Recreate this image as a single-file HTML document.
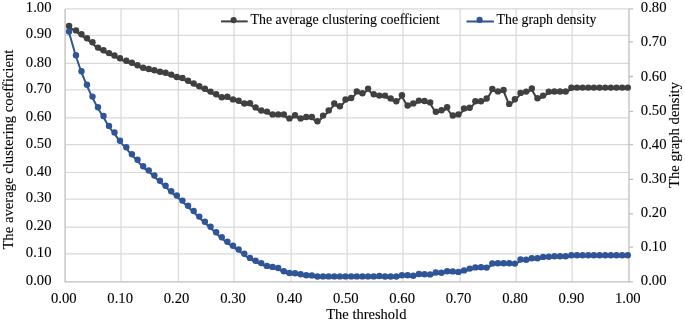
<!DOCTYPE html><html><head><meta charset="utf-8"><style>html,body{margin:0;padding:0;background:#fff;}svg{display:block;will-change:transform;}</style></head><body>
<svg width="685" height="323" viewBox="0 0 685 323">
<rect width="685" height="323" fill="#fff"/>
<path d="M65.10 35.35H629.00M65.10 63.40H629.00M65.10 89.95H629.00M65.10 117.90H629.00M65.10 144.70H629.00M65.10 172.50H629.00M65.10 199.20H629.00M65.10 227.10H629.00M65.10 253.95H629.00M65.10 8.90H629.00M121.00 8.90V281.80M178.40 8.90V281.80M234.00 8.90V281.80M291.10 8.90V281.80M347.10 8.90V281.80M403.00 8.90V281.80M460.10 8.90V281.80M516.10 8.90V281.80M572.10 8.90V281.80" stroke="#d9d9d9" stroke-width="1.2" fill="none"/>
<path d="M65.1 8.9V281.8H629.0M629.0 8.9V281.8M629.0 8.90H633.0M629.0 41.85H633.0M629.0 76.50H633.0M629.0 111.37H633.0M629.0 144.60H633.0M629.0 179.37H633.0M629.0 213.80H633.0M629.0 247.15H633.0M629.0 281.80H633.0" stroke="#bfbfbf" stroke-width="1.3" fill="none"/>
<polyline points="69.10,27.20 76.00,31.60 81.50,35.50 87.00,39.40 92.50,43.50 98.00,48.80 103.50,51.50 109.00,54.30 114.50,56.70 120.00,59.40 126.30,62.00 131.92,63.90 137.53,66.40 143.15,69.00 148.76,70.20 154.38,71.50 159.99,73.00 165.61,74.00 171.23,75.80 176.84,78.20 182.46,79.20 188.07,81.90 193.69,84.70 199.31,87.50 204.92,90.00 210.54,92.80 216.15,95.40 221.77,98.40 227.38,97.90 233.00,100.60 238.66,101.90 244.31,104.70 249.97,104.40 255.63,108.60 261.29,111.70 266.94,112.80 272.60,115.60 278.21,115.60 283.82,115.60 289.42,119.60 295.03,116.40 300.64,119.60 306.25,118.20 311.85,118.20 317.46,122.40 323.07,116.80 328.68,111.60 334.28,104.70 339.89,107.50 345.50,100.70 351.15,99.20 356.79,92.60 362.44,94.40 368.08,89.80 373.73,95.40 379.38,96.80 385.02,96.80 390.67,99.60 396.31,102.40 401.96,96.50 407.61,106.70 413.25,104.60 418.90,101.80 424.54,102.20 430.19,103.60 435.84,112.90 441.48,111.50 447.13,108.50 452.77,116.70 458.42,115.60 464.07,109.70 469.71,108.90 475.36,102.40 481.00,102.40 486.65,99.70 492.30,90.10 497.94,92.60 503.59,91.20 509.23,105.10 514.88,100.40 520.53,94.10 526.17,92.80 531.82,89.70 537.46,99.50 543.11,96.80 548.76,92.90 554.40,92.70 560.05,92.70 565.69,92.70 571.34,88.90 576.99,88.80 582.63,88.80 588.28,88.80 593.92,88.80 599.57,88.80 605.22,88.80 610.86,88.80 616.51,88.80 622.15,88.80 627.80,88.80" fill="none" stroke="#404040" stroke-width="2" stroke-linejoin="round"/><g fill="#404040"><circle cx="69.10" cy="26.00" r="3.2"/><circle cx="76.00" cy="30.40" r="3.2"/><circle cx="81.50" cy="34.30" r="3.2"/><circle cx="87.00" cy="38.20" r="3.2"/><circle cx="92.50" cy="42.30" r="3.2"/><circle cx="98.00" cy="47.60" r="3.2"/><circle cx="103.50" cy="50.30" r="3.2"/><circle cx="109.00" cy="53.10" r="3.2"/><circle cx="114.50" cy="55.50" r="3.2"/><circle cx="120.00" cy="58.20" r="3.2"/><circle cx="126.30" cy="60.80" r="3.2"/><circle cx="131.92" cy="62.70" r="3.2"/><circle cx="137.53" cy="65.20" r="3.2"/><circle cx="143.15" cy="67.80" r="3.2"/><circle cx="148.76" cy="69.00" r="3.2"/><circle cx="154.38" cy="70.30" r="3.2"/><circle cx="159.99" cy="71.80" r="3.2"/><circle cx="165.61" cy="72.80" r="3.2"/><circle cx="171.23" cy="74.60" r="3.2"/><circle cx="176.84" cy="77.00" r="3.2"/><circle cx="182.46" cy="78.00" r="3.2"/><circle cx="188.07" cy="80.70" r="3.2"/><circle cx="193.69" cy="83.50" r="3.2"/><circle cx="199.31" cy="86.30" r="3.2"/><circle cx="204.92" cy="88.80" r="3.2"/><circle cx="210.54" cy="91.60" r="3.2"/><circle cx="216.15" cy="94.20" r="3.2"/><circle cx="221.77" cy="97.20" r="3.2"/><circle cx="227.38" cy="96.70" r="3.2"/><circle cx="233.00" cy="99.40" r="3.2"/><circle cx="238.66" cy="100.70" r="3.2"/><circle cx="244.31" cy="103.50" r="3.2"/><circle cx="249.97" cy="103.20" r="3.2"/><circle cx="255.63" cy="107.40" r="3.2"/><circle cx="261.29" cy="110.50" r="3.2"/><circle cx="266.94" cy="111.60" r="3.2"/><circle cx="272.60" cy="114.40" r="3.2"/><circle cx="278.21" cy="114.40" r="3.2"/><circle cx="283.82" cy="114.40" r="3.2"/><circle cx="289.42" cy="118.40" r="3.2"/><circle cx="295.03" cy="115.20" r="3.2"/><circle cx="300.64" cy="118.40" r="3.2"/><circle cx="306.25" cy="117.00" r="3.2"/><circle cx="311.85" cy="117.00" r="3.2"/><circle cx="317.46" cy="121.20" r="3.2"/><circle cx="323.07" cy="115.60" r="3.2"/><circle cx="328.68" cy="110.40" r="3.2"/><circle cx="334.28" cy="103.50" r="3.2"/><circle cx="339.89" cy="106.30" r="3.2"/><circle cx="345.50" cy="99.50" r="3.2"/><circle cx="351.15" cy="98.00" r="3.2"/><circle cx="356.79" cy="91.40" r="3.2"/><circle cx="362.44" cy="93.20" r="3.2"/><circle cx="368.08" cy="88.60" r="3.2"/><circle cx="373.73" cy="94.20" r="3.2"/><circle cx="379.38" cy="95.60" r="3.2"/><circle cx="385.02" cy="95.60" r="3.2"/><circle cx="390.67" cy="98.40" r="3.2"/><circle cx="396.31" cy="101.20" r="3.2"/><circle cx="401.96" cy="95.30" r="3.2"/><circle cx="407.61" cy="105.50" r="3.2"/><circle cx="413.25" cy="103.40" r="3.2"/><circle cx="418.90" cy="100.60" r="3.2"/><circle cx="424.54" cy="101.00" r="3.2"/><circle cx="430.19" cy="102.40" r="3.2"/><circle cx="435.84" cy="111.70" r="3.2"/><circle cx="441.48" cy="110.30" r="3.2"/><circle cx="447.13" cy="107.30" r="3.2"/><circle cx="452.77" cy="115.50" r="3.2"/><circle cx="458.42" cy="114.40" r="3.2"/><circle cx="464.07" cy="108.50" r="3.2"/><circle cx="469.71" cy="107.70" r="3.2"/><circle cx="475.36" cy="101.20" r="3.2"/><circle cx="481.00" cy="101.20" r="3.2"/><circle cx="486.65" cy="98.50" r="3.2"/><circle cx="492.30" cy="88.90" r="3.2"/><circle cx="497.94" cy="91.40" r="3.2"/><circle cx="503.59" cy="90.00" r="3.2"/><circle cx="509.23" cy="103.90" r="3.2"/><circle cx="514.88" cy="99.20" r="3.2"/><circle cx="520.53" cy="92.90" r="3.2"/><circle cx="526.17" cy="91.60" r="3.2"/><circle cx="531.82" cy="88.50" r="3.2"/><circle cx="537.46" cy="98.30" r="3.2"/><circle cx="543.11" cy="95.60" r="3.2"/><circle cx="548.76" cy="91.70" r="3.2"/><circle cx="554.40" cy="91.50" r="3.2"/><circle cx="560.05" cy="91.50" r="3.2"/><circle cx="565.69" cy="91.50" r="3.2"/><circle cx="571.34" cy="87.70" r="3.2"/><circle cx="576.99" cy="87.60" r="3.2"/><circle cx="582.63" cy="87.60" r="3.2"/><circle cx="588.28" cy="87.60" r="3.2"/><circle cx="593.92" cy="87.60" r="3.2"/><circle cx="599.57" cy="87.60" r="3.2"/><circle cx="605.22" cy="87.60" r="3.2"/><circle cx="610.86" cy="87.60" r="3.2"/><circle cx="616.51" cy="87.60" r="3.2"/><circle cx="622.15" cy="87.60" r="3.2"/><circle cx="627.80" cy="87.60" r="3.2"/></g>
<polyline points="69.10,32.70 76.00,56.50 81.50,72.50 87.00,85.90 92.50,97.80 98.00,108.50 103.50,117.20 109.00,127.10 114.50,133.60 120.00,141.90 126.30,148.40 131.92,155.40 137.53,160.90 143.15,167.50 148.76,171.60 154.38,176.70 159.99,181.90 165.61,186.90 171.23,192.50 176.84,196.70 182.46,201.80 188.07,206.90 193.69,212.20 199.31,217.80 204.92,222.90 210.54,228.00 216.15,233.40 221.77,238.50 227.38,243.00 233.00,247.00 238.66,250.70 244.31,255.00 249.97,259.10 255.63,262.00 261.29,264.30 266.94,267.10 272.60,268.10 278.21,269.20 283.82,272.40 289.42,274.20 295.03,274.40 300.64,275.50 306.25,276.50 311.85,276.60 317.46,277.70 323.07,277.60 328.68,277.60 334.28,277.60 339.89,277.60 345.50,277.60 351.15,277.60 356.79,277.60 362.44,277.60 368.08,277.60 373.73,277.60 379.38,277.20 385.02,277.70 390.67,277.70 396.31,277.70 401.96,276.50 407.61,276.50 413.25,276.90 418.90,275.20 424.54,275.40 430.19,275.60 435.84,273.70 441.48,273.90 447.13,272.40 452.77,272.60 458.42,273.10 464.07,271.60 469.71,269.80 475.36,268.60 481.00,268.50 486.65,268.80 492.30,264.60 497.94,264.50 503.59,264.50 509.23,264.50 514.88,264.80 520.53,260.70 526.17,261.00 531.82,259.50 537.46,259.50 543.11,258.10 548.76,257.90 554.40,257.50 560.05,257.50 565.69,257.50 571.34,256.40 576.99,256.50 582.63,256.50 588.28,256.50 593.92,256.50 599.57,256.50 605.22,256.50 610.86,256.50 616.51,256.50 622.15,256.50 627.80,256.50" fill="none" stroke="#2f5597" stroke-width="2" stroke-linejoin="round"/><g fill="#2f5597"><circle cx="69.10" cy="31.50" r="3.2"/><circle cx="76.00" cy="55.30" r="3.2"/><circle cx="81.50" cy="71.30" r="3.2"/><circle cx="87.00" cy="84.70" r="3.2"/><circle cx="92.50" cy="96.60" r="3.2"/><circle cx="98.00" cy="107.30" r="3.2"/><circle cx="103.50" cy="116.00" r="3.2"/><circle cx="109.00" cy="125.90" r="3.2"/><circle cx="114.50" cy="132.40" r="3.2"/><circle cx="120.00" cy="140.70" r="3.2"/><circle cx="126.30" cy="147.20" r="3.2"/><circle cx="131.92" cy="154.20" r="3.2"/><circle cx="137.53" cy="159.70" r="3.2"/><circle cx="143.15" cy="166.30" r="3.2"/><circle cx="148.76" cy="170.40" r="3.2"/><circle cx="154.38" cy="175.50" r="3.2"/><circle cx="159.99" cy="180.70" r="3.2"/><circle cx="165.61" cy="185.70" r="3.2"/><circle cx="171.23" cy="191.30" r="3.2"/><circle cx="176.84" cy="195.50" r="3.2"/><circle cx="182.46" cy="200.60" r="3.2"/><circle cx="188.07" cy="205.70" r="3.2"/><circle cx="193.69" cy="211.00" r="3.2"/><circle cx="199.31" cy="216.60" r="3.2"/><circle cx="204.92" cy="221.70" r="3.2"/><circle cx="210.54" cy="226.80" r="3.2"/><circle cx="216.15" cy="232.20" r="3.2"/><circle cx="221.77" cy="237.30" r="3.2"/><circle cx="227.38" cy="241.80" r="3.2"/><circle cx="233.00" cy="245.80" r="3.2"/><circle cx="238.66" cy="249.50" r="3.2"/><circle cx="244.31" cy="253.80" r="3.2"/><circle cx="249.97" cy="257.90" r="3.2"/><circle cx="255.63" cy="260.80" r="3.2"/><circle cx="261.29" cy="263.10" r="3.2"/><circle cx="266.94" cy="265.90" r="3.2"/><circle cx="272.60" cy="266.90" r="3.2"/><circle cx="278.21" cy="268.00" r="3.2"/><circle cx="283.82" cy="271.20" r="3.2"/><circle cx="289.42" cy="273.00" r="3.2"/><circle cx="295.03" cy="273.20" r="3.2"/><circle cx="300.64" cy="274.30" r="3.2"/><circle cx="306.25" cy="275.30" r="3.2"/><circle cx="311.85" cy="275.40" r="3.2"/><circle cx="317.46" cy="276.50" r="3.2"/><circle cx="323.07" cy="276.40" r="3.2"/><circle cx="328.68" cy="276.40" r="3.2"/><circle cx="334.28" cy="276.40" r="3.2"/><circle cx="339.89" cy="276.40" r="3.2"/><circle cx="345.50" cy="276.40" r="3.2"/><circle cx="351.15" cy="276.40" r="3.2"/><circle cx="356.79" cy="276.40" r="3.2"/><circle cx="362.44" cy="276.40" r="3.2"/><circle cx="368.08" cy="276.40" r="3.2"/><circle cx="373.73" cy="276.40" r="3.2"/><circle cx="379.38" cy="276.00" r="3.2"/><circle cx="385.02" cy="276.50" r="3.2"/><circle cx="390.67" cy="276.50" r="3.2"/><circle cx="396.31" cy="276.50" r="3.2"/><circle cx="401.96" cy="275.30" r="3.2"/><circle cx="407.61" cy="275.30" r="3.2"/><circle cx="413.25" cy="275.70" r="3.2"/><circle cx="418.90" cy="274.00" r="3.2"/><circle cx="424.54" cy="274.20" r="3.2"/><circle cx="430.19" cy="274.40" r="3.2"/><circle cx="435.84" cy="272.50" r="3.2"/><circle cx="441.48" cy="272.70" r="3.2"/><circle cx="447.13" cy="271.20" r="3.2"/><circle cx="452.77" cy="271.40" r="3.2"/><circle cx="458.42" cy="271.90" r="3.2"/><circle cx="464.07" cy="270.40" r="3.2"/><circle cx="469.71" cy="268.60" r="3.2"/><circle cx="475.36" cy="267.40" r="3.2"/><circle cx="481.00" cy="267.30" r="3.2"/><circle cx="486.65" cy="267.60" r="3.2"/><circle cx="492.30" cy="263.40" r="3.2"/><circle cx="497.94" cy="263.30" r="3.2"/><circle cx="503.59" cy="263.30" r="3.2"/><circle cx="509.23" cy="263.30" r="3.2"/><circle cx="514.88" cy="263.60" r="3.2"/><circle cx="520.53" cy="259.50" r="3.2"/><circle cx="526.17" cy="259.80" r="3.2"/><circle cx="531.82" cy="258.30" r="3.2"/><circle cx="537.46" cy="258.30" r="3.2"/><circle cx="543.11" cy="256.90" r="3.2"/><circle cx="548.76" cy="256.70" r="3.2"/><circle cx="554.40" cy="256.30" r="3.2"/><circle cx="560.05" cy="256.30" r="3.2"/><circle cx="565.69" cy="256.30" r="3.2"/><circle cx="571.34" cy="255.20" r="3.2"/><circle cx="576.99" cy="255.30" r="3.2"/><circle cx="582.63" cy="255.30" r="3.2"/><circle cx="588.28" cy="255.30" r="3.2"/><circle cx="593.92" cy="255.30" r="3.2"/><circle cx="599.57" cy="255.30" r="3.2"/><circle cx="605.22" cy="255.30" r="3.2"/><circle cx="610.86" cy="255.30" r="3.2"/><circle cx="616.51" cy="255.30" r="3.2"/><circle cx="622.15" cy="255.30" r="3.2"/><circle cx="627.80" cy="255.30" r="3.2"/></g>
<g font-family="Liberation Serif, serif" stroke="#000" stroke-width="0.1" font-size="15.6" fill="#000" text-anchor="end">
<text x="51.5" y="12.00" textLength="25.67" lengthAdjust="spacingAndGlyphs">1.00</text>
<text x="51.5" y="38.45" textLength="25.67" lengthAdjust="spacingAndGlyphs">0.90</text>
<text x="51.5" y="66.50" textLength="25.67" lengthAdjust="spacingAndGlyphs">0.80</text>
<text x="51.5" y="93.05" textLength="25.67" lengthAdjust="spacingAndGlyphs">0.70</text>
<text x="51.5" y="121.00" textLength="25.67" lengthAdjust="spacingAndGlyphs">0.60</text>
<text x="51.5" y="147.80" textLength="25.67" lengthAdjust="spacingAndGlyphs">0.50</text>
<text x="51.5" y="175.60" textLength="25.67" lengthAdjust="spacingAndGlyphs">0.40</text>
<text x="51.5" y="202.30" textLength="25.67" lengthAdjust="spacingAndGlyphs">0.30</text>
<text x="51.5" y="230.20" textLength="25.67" lengthAdjust="spacingAndGlyphs">0.20</text>
<text x="51.5" y="257.05" textLength="25.67" lengthAdjust="spacingAndGlyphs">0.10</text>
<text x="51.5" y="284.90" textLength="25.67" lengthAdjust="spacingAndGlyphs">0.00</text>
</g>
<g font-family="Liberation Serif, serif" stroke="#000" stroke-width="0.1" font-size="15.6" fill="#000" text-anchor="start">
<text x="640.8" y="11.80" textLength="25.67" lengthAdjust="spacingAndGlyphs">0.80</text>
<text x="640.8" y="46.42" textLength="25.67" lengthAdjust="spacingAndGlyphs">0.70</text>
<text x="640.8" y="80.55" textLength="25.67" lengthAdjust="spacingAndGlyphs">0.60</text>
<text x="640.8" y="114.67" textLength="25.67" lengthAdjust="spacingAndGlyphs">0.50</text>
<text x="640.8" y="148.80" textLength="25.67" lengthAdjust="spacingAndGlyphs">0.40</text>
<text x="640.8" y="182.93" textLength="25.67" lengthAdjust="spacingAndGlyphs">0.30</text>
<text x="640.8" y="217.05" textLength="25.67" lengthAdjust="spacingAndGlyphs">0.20</text>
<text x="640.8" y="251.18" textLength="25.67" lengthAdjust="spacingAndGlyphs">0.10</text>
<text x="640.8" y="285.30" textLength="25.67" lengthAdjust="spacingAndGlyphs">0.00</text>
</g>
<g font-family="Liberation Serif, serif" stroke="#000" stroke-width="0.1" font-size="15.6" fill="#000" text-anchor="middle">
<text x="63.80" y="303" textLength="25.67" lengthAdjust="spacingAndGlyphs">0.00</text>
<text x="120.20" y="303" textLength="25.67" lengthAdjust="spacingAndGlyphs">0.10</text>
<text x="176.60" y="303" textLength="25.67" lengthAdjust="spacingAndGlyphs">0.20</text>
<text x="233.00" y="303" textLength="25.67" lengthAdjust="spacingAndGlyphs">0.30</text>
<text x="289.40" y="303" textLength="25.67" lengthAdjust="spacingAndGlyphs">0.40</text>
<text x="345.80" y="303" textLength="25.67" lengthAdjust="spacingAndGlyphs">0.50</text>
<text x="402.20" y="303" textLength="25.67" lengthAdjust="spacingAndGlyphs">0.60</text>
<text x="458.60" y="303" textLength="25.67" lengthAdjust="spacingAndGlyphs">0.70</text>
<text x="515.00" y="303" textLength="25.67" lengthAdjust="spacingAndGlyphs">0.80</text>
<text x="571.40" y="303" textLength="25.67" lengthAdjust="spacingAndGlyphs">0.90</text>
<text x="627.80" y="303" textLength="25.67" lengthAdjust="spacingAndGlyphs">1.00</text>
</g>
<text font-family="Liberation Serif, serif" stroke="#000" stroke-width="0.1" font-size="14.67" fill="#000" x="326.2" y="318.6" textLength="80.2" lengthAdjust="spacingAndGlyphs">The threshold</text>
<text font-family="Liberation Serif, serif" stroke="#000" stroke-width="0.1" font-size="14.67" fill="#000" transform="translate(13,249.6) rotate(-90)" textLength="200" lengthAdjust="spacingAndGlyphs">The average clustering coefficient</text>
<text font-family="Liberation Serif, serif" stroke="#000" stroke-width="0.1" font-size="14.67" fill="#000" transform="translate(678.5,188) rotate(-90)" textLength="106" lengthAdjust="spacingAndGlyphs">The graph density</text>
<path d="M221 21.4H247.7" stroke="#404040" stroke-width="2"/><circle cx="233.6" cy="20.1" r="3.1" fill="#404040"/>
<text font-family="Liberation Serif, serif" stroke="#000" stroke-width="0.1" font-size="14.67" fill="#000" x="250.5" y="23.7" textLength="189" lengthAdjust="spacingAndGlyphs">The average clustering coefficient</text>
<path d="M466.5 21.5H493.9" stroke="#2f5597" stroke-width="2"/><circle cx="479.6" cy="19.9" r="3.1" fill="#2f5597"/>
<text font-family="Liberation Serif, serif" stroke="#000" stroke-width="0.1" font-size="14.67" fill="#000" x="496.5" y="23.7" textLength="100" lengthAdjust="spacingAndGlyphs">The graph density</text>
</svg></body></html>
